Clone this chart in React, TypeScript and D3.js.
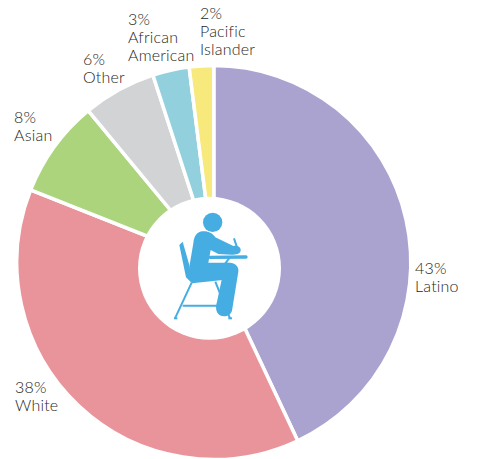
import { useEffect, useRef } from 'react';
import * as d3 from 'd3';

const CATEGORIES = ['Latino', 'White', 'Asian', 'Other', 'African American', 'Pacific Islander'];
const VALUES = [43, 38, 8, 6, 3, 2];
const COLORS = ['#aaa3d0', '#e9949b', '#acd47d', '#d1d3d4', '#92d0dd', '#f7e97c'];
// each label is broken over lines by hand, like the original
const LABEL_LINES = [['43%', 'Latino'], ['38%', 'White'], ['8%', 'Asian'], ['6%', 'Other'], ['3%', 'African', 'American'], ['2%', 'Pacific', 'Islander']];
const LABEL_POS = [[415, 274], [15, 392.5], [14, 122.5], [83, 64.5], [128, 25], [200, 19]];

const ICON_BLUE = '#45ade2';

const App = () => {
  const svgRef = useRef<SVGSVGElement>(null);

  useEffect(() => {
    const svg = d3.select(svgRef.current);
    svg.selectAll('*').remove();

    const cx = 213.8;
    const cy = 262.5;
    const outer = 197;

    const g = svg.append('g').attr('transform', `translate(${cx},${cy})`);
    const pie = d3.pie<number>().value(d => d).sort(null);
    const arc = d3.arc<d3.PieArcDatum<number>>().innerRadius(0).outerRadius(outer);

    g.selectAll('path')
      .data(pie(VALUES))
      .enter()
      .append('path')
      .attr('fill', (_, i) => COLORS[i])
      .attr('stroke', '#fff')
      .attr('stroke-width', 3.5)
      .attr('aria-label', (_, i) => CATEGORIES[i])
      .attr('d', arc);

    // the hole sits a bit off the pie centre in the original
    svg.append('circle')
      .attr('cx', 209.5)
      .attr('cy', 268.3)
      .attr('r', 71.5)
      .attr('fill', '#fff');

    // labels
    LABEL_LINES.forEach((lines, i) => {
      const t = svg.append('text')
        .attr('font-family', 'Lato, sans-serif')
        .attr('font-size', 16)
        .attr('font-weight', 300)
        .attr('letter-spacing', 0.2)
        .attr('fill', '#1f1f21');
      lines.forEach((line, j) => {
        t.append('tspan')
          .attr('x', LABEL_POS[i][0])
          .attr('y', LABEL_POS[i][1] + j * 18)
          .text(line);
      });
    });

    // seated student icon, drawn in 3x units
    const icon = svg.append('g').attr('transform', 'translate(150,190) scale(0.3333)');
    icon.append('circle').attr('cx', 188).attr('cy', 97).attr('r', 29).attr('fill', ICON_BLUE);
    icon.append('path')
      .attr('fill', ICON_BLUE)
      .attr('d', 'M150 125 C170 120 188 128 196 142 L250 168 C262 165 274 172 272 182 C270 192 258 194 245 194 L205 192 L182 180 L175 218 L225 218 C250 216 268 226 265 245 L246 362 C240 382 212 384 202 368 C196 358 198 345 201 335 L216 265 L135 270 C120 268 114 250 118 230 L130 160 C132 140 138 130 150 125 Z');
    // chair seat and back
    icon.append('path')
      .attr('fill', ICON_BLUE)
      .attr('d', 'M88 165 L98 155 L118 225 L120 252 L132 268 L215 260 L218 270 L126 280 L108 262 Z');
    const strokes = [
      [125, 278, 75, 385],
      [72, 385, 82, 385],
      [196, 275, 240, 385],
      [235, 385, 246, 385],
      [98, 347, 205, 347],
      [252, 145, 261, 172],
      [238, 204, 226, 220],
    ];
    icon.selectAll('line')
      .data(strokes)
      .enter()
      .append('line')
      .attr('x1', d => d[0])
      .attr('y1', d => d[1])
      .attr('x2', d => d[2])
      .attr('y2', d => d[3])
      .attr('stroke', ICON_BLUE)
      .attr('stroke-width', 6);
    const desk = icon.append('line');
    desk
      .attr('x1', 180)
      .attr('y1', 202)
      .attr('x2', 288)
      .attr('y2', 201)
      .attr('stroke', ICON_BLUE)
      .attr('stroke-width', 10)
      .attr('stroke-linecap', 'round');
  }, []);

  return (
    <svg
      ref={svgRef}
      width={477}
      height={459}
      style={{ position: 'absolute', left: 0, top: 0, background: '#fff' }}
    />
  );
};

export default App;
